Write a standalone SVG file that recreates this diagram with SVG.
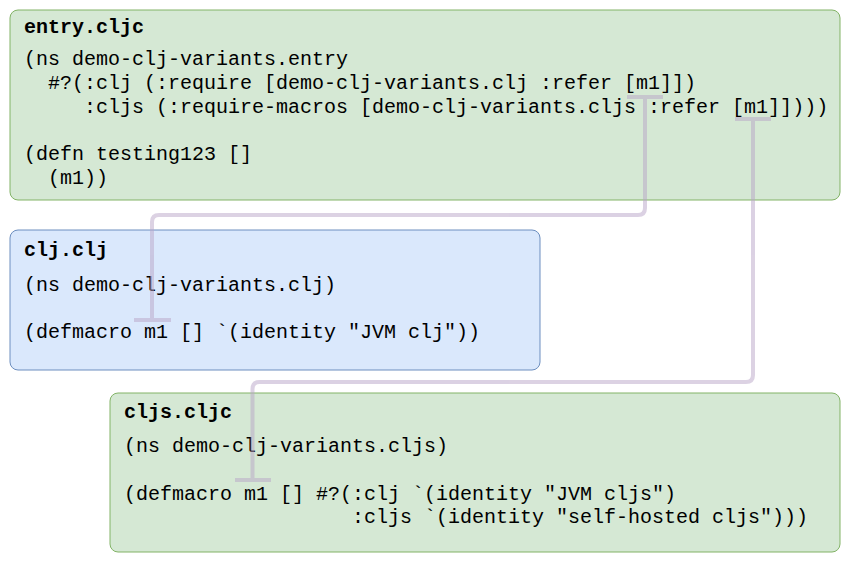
<svg xmlns="http://www.w3.org/2000/svg" width="861" height="564" viewBox="0 0 861 564">
  <style>
    .green { fill: #d5e8d4; stroke: #82b366; stroke-width: 1; }
    .blue { fill: #dae8fc; stroke: #6c8ebf; stroke-width: 1; }
    text { font-family: "Liberation Mono", "Courier New", monospace; font-size: 20px; fill: #000; white-space: pre; }
    .title { font-weight: bold; }
    .conn { fill: none; stroke: #b9a5c8; stroke-width: 4; stroke-linecap: butt; }
  </style>
  <rect width="861" height="564" fill="#ffffff"/>

  <g id="entry">
    <rect class="green" x="10" y="10" width="830" height="190" rx="8" ry="8"/>
    <text class="title" x="24" y="33">entry.cljc</text>
    <text x="24" y="65" xml:space="preserve">(ns demo-clj-variants.entry</text>
    <text x="24" y="89" xml:space="preserve">  #?(:clj (:require [demo-clj-variants.clj :refer [m1]])</text>
    <text x="24" y="112.5" xml:space="preserve">     :cljs (:require-macros [demo-clj-variants.cljs :refer [m1]])))</text>
    <text x="24" y="160" xml:space="preserve">(defn testing123 []</text>
    <text x="24" y="183.5" xml:space="preserve">  (m1))</text>
  </g>

  <g id="clj">
    <rect class="blue" x="10" y="230" width="530" height="140" rx="8" ry="8"/>
    <text class="title" x="24" y="256">clj.clj</text>
    <text x="24" y="290.5" xml:space="preserve">(ns demo-clj-variants.clj)</text>
    <text x="24" y="337.5" xml:space="preserve">(defmacro m1 [] `(identity "JVM clj"))</text>
  </g>

  <g id="cljs">
    <rect class="green" x="110" y="393" width="730" height="159" rx="8" ry="8"/>
    <text class="title" x="124" y="418">cljs.cljc</text>
    <text x="124" y="452" xml:space="preserve">(ns demo-clj-variants.cljs)</text>
    <text x="124" y="499.5" xml:space="preserve">(defmacro m1 [] #?(:clj `(identity "JVM cljs")</text>
    <text x="124" y="523" xml:space="preserve">                   :cljs `(identity "self-hosted cljs")))</text>
  </g>

  <g id="connectors">
    <g id="conn-clj" opacity="0.5">
      <path class="conn" d="M645,99 V208 Q645,215 638,215 H159 Q152,215 152,222 V318"/>
      <path class="conn" d="M627,97 H663"/>
      <path class="conn" d="M134,320 H171"/>
    </g>
    <g id="conn-cljs" opacity="0.5">
      <path class="conn" d="M753,121 V375 Q753,382 746,382 H259.5 Q252.5,382 252.5,389 V478"/>
      <path class="conn" d="M735,119 H771"/>
      <path class="conn" d="M235,480 H271"/>
    </g>
  </g>
</svg>
